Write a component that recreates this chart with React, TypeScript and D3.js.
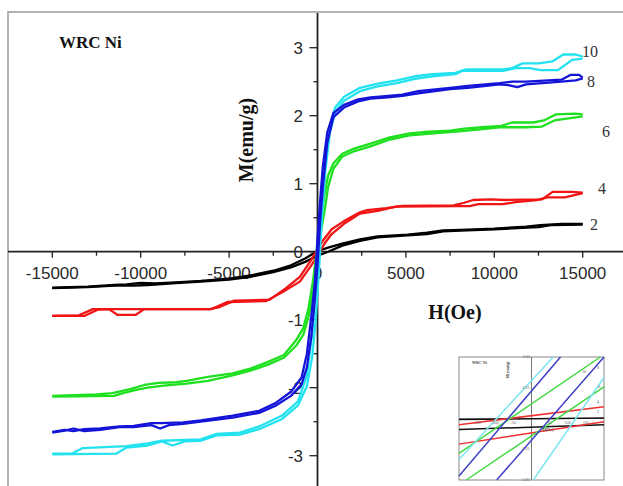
import React from "react";
import * as d3 from "d3";

// ---------- DATA ----------
const xTicks = [-15000, -10000, -5000, 0, 5000, 10000, 15000];
const xMinorTicks = [-12500, -7500, -2500, 2500, 7500, 12500];
const yTicks = [-3, -2, -1, 0, 1, 2, 3];
const yMinorTicks = [-2.5, -1.5, -0.5, 0.5, 1.5, 2.5];

const seriesNames = ["2", "4", "6", "8", "10"];
const seriesColors = ["#000000", "#f01414", "#1fe01f", "#1414d8", "#22e2f0"];

// [H (Oe), M (emu/g)] — ascending-field branch and descending-field branch
const asc2: [number, number][] = [[-15000,-0.535],[-13000,-0.52],[-11500,-0.5],[-10400,-0.5],[-9600,-0.49],[-8000,-0.46],[-6600,-0.44],[-5000,-0.41],[-3800,-0.37],[-2500,-0.3],[-1500,-0.23],[-700,-0.15],[0,-0.06],[600,0.0],[1400,0.09],[2400,0.16],[3400,0.21],[5100,0.24],[6200,0.26],[7100,0.3],[8100,0.31],[10000,0.33],[11600,0.35],[12500,0.36],[13200,0.39],[15000,0.4]];
const desc2: [number, number][] = [[15000,0.41],[13800,0.41],[12600,0.39],[11800,0.37],[10000,0.34],[8100,0.32],[7100,0.315],[6200,0.28],[5100,0.25],[3400,0.225],[2400,0.18],[1400,0.12],[600,0.06],[0,0.01],[-700,-0.1],[-1500,-0.2],[-2500,-0.28],[-3800,-0.35],[-5000,-0.395],[-6600,-0.43],[-8000,-0.45],[-9200,-0.465],[-10000,-0.46],[-10800,-0.48],[-11500,-0.49],[-13000,-0.515],[-15000,-0.53]];

const asc4: [number, number][] = [[-15000,-0.945],[-13200,-0.945],[-12400,-0.85],[-11800,-0.845],[-11300,-0.93],[-10300,-0.93],[-9800,-0.845],[-6000,-0.845],[-5100,-0.74],[-2900,-0.725],[-1900,-0.58],[-1000,-0.44],[-400,-0.22],[0,-0.06],[400,0.12],[800,0.26],[1500,0.41],[2400,0.56],[3400,0.6],[4500,0.665],[7900,0.67],[8600,0.67],[9100,0.7],[10500,0.7],[11200,0.73],[12400,0.76],[13000,0.8],[14000,0.8],[15000,0.86]];
const desc4: [number, number][] = [[15000,0.87],[14400,0.88],[13300,0.88],[12700,0.77],[10600,0.76],[9800,0.77],[8800,0.76],[8300,0.72],[7700,0.68],[4800,0.675],[3900,0.64],[2800,0.61],[2400,0.58],[1500,0.45],[800,0.33],[300,0.16],[0,0.04],[-400,-0.14],[-1000,-0.37],[-1800,-0.54],[-2700,-0.705],[-4700,-0.72],[-5600,-0.82],[-6100,-0.845],[-12700,-0.845],[-13500,-0.935],[-15000,-0.945]];

const asc6: [number, number][] = [[-15000,-2.13],[-11500,-2.12],[-11000,-2.08],[-10200,-2.03],[-9600,-2.0],[-8700,-1.97],[-7400,-1.94],[-6200,-1.9],[-4800,-1.82],[-3800,-1.75],[-2800,-1.66],[-1900,-1.56],[-1200,-1.38],[-800,-1.22],[-500,-0.95],[-250,-0.6],[0,-0.1],[200,0.3],[400,0.6],[600,0.95],[900,1.22],[1400,1.4],[2100,1.48],[3000,1.55],[4100,1.65],[5200,1.71],[7100,1.75],[8000,1.77],[9200,1.8],[10300,1.83],[11800,1.83],[12700,1.84],[13400,1.93],[15000,1.99]];
const desc6: [number, number][] = [[15000,2.02],[14600,2.03],[13500,2.02],[12800,1.93],[12200,1.9],[11000,1.9],[10400,1.85],[9300,1.83],[8300,1.81],[7500,1.78],[6000,1.76],[5200,1.74],[4100,1.68],[3000,1.59],[2100,1.52],[1400,1.44],[900,1.3],[600,1.12],[400,0.85],[200,0.5],[0,0.1],[-250,-0.42],[-500,-0.82],[-800,-1.12],[-1200,-1.3],[-1900,-1.52],[-2800,-1.62],[-3800,-1.72],[-4800,-1.79],[-6200,-1.84],[-7400,-1.9],[-8000,-1.92],[-9000,-1.93],[-9800,-1.96],[-10600,-2.02],[-11600,-2.08],[-12500,-2.1],[-15000,-2.12]];

const asc8: [number, number][] = [[-15000,-2.66],[-14300,-2.63],[-13800,-2.6],[-13200,-2.64],[-12300,-2.62],[-11200,-2.58],[-10400,-2.58],[-9400,-2.55],[-8900,-2.6],[-8400,-2.55],[-7600,-2.53],[-6600,-2.5],[-4800,-2.44],[-3300,-2.37],[-2400,-2.27],[-1500,-2.12],[-900,-1.95],[-600,-1.7],[-350,-1.25],[-150,-0.7],[0,-0.2],[150,0.45],[300,0.95],[550,1.6],[900,1.98],[1500,2.12],[2300,2.21],[3000,2.25],[4000,2.27],[4800,2.29],[5700,2.33],[7500,2.39],[8500,2.41],[10300,2.46],[10800,2.45],[11300,2.42],[11800,2.46],[13800,2.5],[14600,2.52],[15000,2.55]];
const desc8: [number, number][] = [[15000,2.56],[14800,2.6],[14300,2.6],[13800,2.53],[11800,2.5],[11000,2.5],[10300,2.48],[8500,2.44],[7500,2.41],[5700,2.36],[4800,2.31],[4000,2.29],[3000,2.27],[2300,2.24],[1500,2.16],[900,2.04],[550,1.75],[300,1.25],[150,0.75],[0,0.2],[-150,-0.45],[-350,-0.95],[-600,-1.5],[-900,-1.85],[-1500,-2.06],[-2400,-2.23],[-3300,-2.34],[-4800,-2.41],[-6600,-2.48],[-7600,-2.51],[-8900,-2.52],[-9400,-2.52],[-10400,-2.56],[-11200,-2.57],[-12300,-2.6],[-13200,-2.61],[-13800,-2.64],[-14300,-2.62],[-15000,-2.65]];

const asc10: [number, number][] = [[-15000,-2.98],[-11400,-2.97],[-10800,-2.88],[-9600,-2.85],[-8800,-2.79],[-8200,-2.85],[-7500,-2.79],[-6600,-2.78],[-5700,-2.7],[-4400,-2.69],[-3300,-2.61],[-2000,-2.46],[-1100,-2.26],[-600,-1.98],[-300,-1.55],[-100,-1.0],[100,-0.2],[250,0.5],[450,1.2],[700,1.75],[1000,2.05],[1500,2.22],[2400,2.36],[3400,2.43],[4500,2.48],[5500,2.54],[6500,2.58],[7800,2.61],[8200,2.66],[10500,2.66],[11200,2.7],[12000,2.7],[12600,2.67],[13600,2.67],[14400,2.82],[15000,2.84]];
const desc10: [number, number][] = [[15000,2.87],[14600,2.9],[13900,2.9],[13300,2.8],[12500,2.77],[11600,2.77],[11000,2.7],[10500,2.68],[8400,2.68],[7800,2.63],[6500,2.61],[5500,2.58],[4500,2.52],[3400,2.47],[2400,2.41],[1500,2.28],[1000,2.12],[700,1.85],[450,1.35],[250,0.75],[100,0.2],[-100,-0.5],[-300,-1.2],[-600,-1.82],[-1100,-2.2],[-2000,-2.41],[-3300,-2.57],[-4400,-2.66],[-5700,-2.68],[-6600,-2.76],[-8800,-2.78],[-9600,-2.82],[-10800,-2.86],[-13300,-2.89],[-13900,-2.97],[-15000,-2.97]];

const branches = [
  [asc2, desc2],
  [asc4, desc4],
  [asc6, desc6],
  [asc10, desc10],
  [asc8, desc8],
];
const drawColors = [seriesColors[0], seriesColors[1], seriesColors[2], seriesColors[4], seriesColors[3]];

// Inset (zoom near origin): segments [[H1,M1],[H2,M2]]
const insetSegments: { color: string; pts: [number, number][] }[] = [
  { color: "#111111", pts: [[-200, -0.005], [200, 0.003]] },
  { color: "#111111", pts: [[-200, -0.054], [200, -0.03]] },
  { color: "#f03030", pts: [[-200, -0.03], [200, 0.057]] },
  { color: "#f03030", pts: [[-200, -0.125], [200, -0.016]] },
  { color: "#40d840", pts: [[-200, -0.17], [190, 0.3]] },
  { color: "#40d840", pts: [[-180, -0.3], [200, 0.154]] },
  { color: "#7ee6f0", pts: [[-200, -0.2], [60, 0.3]] },
  { color: "#7ee6f0", pts: [[5, -0.3], [200, 0.2]] },
  { color: "#4040c8", pts: [[-200, -0.28], [80, 0.3]] },
  { color: "#4040c8", pts: [[-96, -0.3], [200, 0.3]] },
];
const insetYTicks = [-0.3, -0.15, 0.15, 0.3];
const insetXTicks = [-150, -100, -50, 50, 100, 150];

export default function App() {
  const W = 623, H = 486;
  const x = d3.scaleLinear().domain([-15000, 15000]).range([52.3, 582.7]);
  const y = d3.scaleLinear().domain([-3, 3]).range([455.7, 47.7]);
  const line = d3.line<[number, number]>().x((d) => x(d[0])).y((d) => y(d[1]));

  const ix = d3.scaleLinear().domain([-200, 200]).range([459, 604]);
  const iy = d3.scaleLinear().domain([-0.3, 0.3]).range([480, 357]);
  const iline = d3.line<[number, number]>().x((d) => ix(d[0])).y((d) => iy(d[1]));

  const x0 = x(0), y0 = y(0);
  const sans = "Liberation Sans, Arial, sans-serif";
  const serif = "Liberation Serif, Times New Roman, serif";

  const labelPos = [
    { t: "10", x: 582, y: 57 },
    { t: "8", x: 587, y: 86.5 },
    { t: "6", x: 602, y: 136.5 },
    { t: "4", x: 598, y: 194 },
    { t: "2", x: 590, y: 230 },
  ];

  return (
    <svg width={W} height={H} style={{ position: "absolute", left: 0, top: 0, background: "#fff" }}>
      <rect x={0} y={0} width={W} height={H} fill="#fff" />
      {/* frame */}
      <rect x={8} y={12} width={640} height={500} fill="none" stroke="#a0a0a0" strokeWidth={1.6} />

      {/* axes */}
      <line x1={8} x2={W} y1={y0} y2={y0} stroke="#222" strokeWidth={1.8} />
      <line x1={x0} x2={x0} y1={13} y2={H} stroke="#222" strokeWidth={1.8} />

      {xTicks.map((t) => (
        <line key={"xt" + t} x1={x(t)} x2={x(t)} y1={y0} y2={y0 + 6} stroke="#222" strokeWidth={1.3} />
      ))}
      {xMinorTicks.map((t) => (
        <line key={"xm" + t} x1={x(t)} x2={x(t)} y1={y0} y2={y0 + 4} stroke="#222" strokeWidth={1.3} />
      ))}
      {yTicks.map((t) => (
        <line key={"yt" + t} x1={x0 - 8} x2={x0} y1={y(t)} y2={y(t)} stroke="#222" strokeWidth={1.3} />
      ))}
      {yMinorTicks.map((t) => (
        <line key={"ym" + t} x1={x0 - 4} x2={x0} y1={y(t)} y2={y(t)} stroke="#222" strokeWidth={1.3} />
      ))}

      {xTicks.map((t) => (
        <text key={"xl" + t} x={x(t)} y={279} textAnchor="middle" fontFamily={sans} fontSize={17} fill="#2a2a2a">
          {String(t)}
        </text>
      ))}
      {yTicks.map((t) => (
        <text key={"yl" + t} x={303} y={y(t)} dy="0.36em" textAnchor="end" fontFamily={sans} fontSize={17} fill="#2a2a2a">
          {String(t)}
        </text>
      ))}

      {/* curves */}
      {branches.map((br, i) =>
        br.map((pts, j) => (
          <path key={"c" + i + "_" + j} d={line(pts) || ""} fill="none" stroke={drawColors[i]} strokeWidth={2.3} strokeLinejoin="round" />
        ))
      )}

      {/* titles */}
      <text x={59} y={48} fontFamily={serif} fontWeight="bold" fontSize={17} fill="#111">WRC Ni</text>
      <text transform="translate(246,140) rotate(-90)" textAnchor="middle" dy="0.35em" fontFamily={serif} fontWeight="bold" fontSize={20} fill="#111">
        M(emu/g)
      </text>
      <text x={455} y={319} textAnchor="middle" fontFamily={serif} fontWeight="bold" fontSize={20} fill="#111">H(Oe)</text>

      {labelPos.map((l, i) => (
        <text key={"lab" + i} x={l.x} y={l.y} fontFamily={serif} fontSize={16} fill="#333">{l.t}</text>
      ))}

      {/* inset */}
      <g>
        <rect x={459} y={357} width={145} height={123} fill="#fff" stroke="#888" strokeWidth={1} />
        <line x1={459} x2={604} y1={iy(0)} y2={iy(0)} stroke="#777" strokeWidth={0.8} />
        <line x1={ix(0)} x2={ix(0)} y1={357} y2={480} stroke="#555" strokeWidth={0.8} />
        {insetSegments.map((s, i) => (
          <path key={"is" + i} d={iline(s.pts) || ""} stroke={s.color} strokeWidth={1.5} fill="none" />
        ))}
        {insetYTicks.map((t) => (
          <text key={"iyl" + t} x={ix(0) - 2} y={iy(t)} dy="0.35em" textAnchor="end" fontFamily={sans} fontSize={3.5} fill="#666">
            {t.toFixed(2)}
          </text>
        ))}
        {insetXTicks.map((t) => (
          <text key={"ixl" + t} x={ix(t)} y={iy(0) + 5} textAnchor="middle" fontFamily={sans} fontSize={3.5} fill="#666">
            {String(t)}
          </text>
        ))}
        <text x={472} y={364} fontFamily={serif} fontWeight="bold" fontSize={4} fill="#444">WRC Ni</text>
        <text transform="translate(509,370) rotate(-90)" textAnchor="middle" fontFamily={serif} fontWeight="bold" fontSize={4} fill="#444">M(emu/g)</text>
        <text x={548} y={431} textAnchor="middle" fontFamily={serif} fontWeight="bold" fontSize={4} fill="#444">H(Oe)</text>
        {[
          { t: "10", x: 582, y: 373 },
          { t: "8", x: 597, y: 369 },
          { t: "6", x: 598, y: 388 },
          { t: "4", x: 597, y: 403 },
          { t: "2", x: 597, y: 413 },
        ].map((l, i) => (
          <text key={"il" + i} x={l.x} y={l.y} fontFamily={serif} fontSize={4} fill="#555">{l.t}</text>
        ))}
      </g>
    </svg>
  );
}
